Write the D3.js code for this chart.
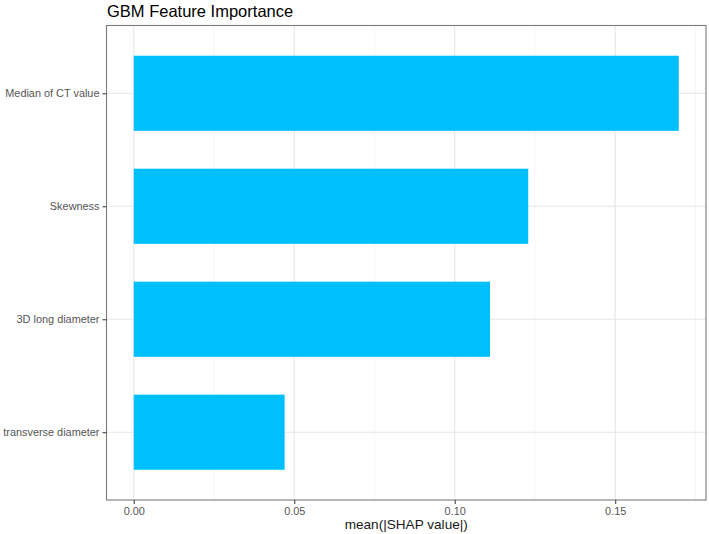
<!DOCTYPE html>
<html>
<head>
<meta charset="utf-8">
<script src="https://cdn.jsdelivr.net/npm/d3@7"></script>
<style>
  html, body { margin: 0; padding: 0; background: #fff; }
  text { font-family: "Liberation Sans", Arial, Helvetica, sans-serif; }
</style>
</head>
<body>
<svg id="chart" width="709" height="534"></svg>
<script>
const features = ["Median of CT value", "Skewness", "3D long diameter", "transverse diameter"];
const importance = [0.1698, 0.1229, 0.1110, 0.0470];
const xTicks = [0, 0.05, 0.10, 0.15];
const xMinor = [0.025, 0.075, 0.125, 0.175];
const xTickLabels = ["0.00", "0.05", "0.10", "0.15"];
const titleText = "GBM Feature Importance";
const xTitle = "mean(|SHAP value|)";

const svg = d3.select("#chart");
const panel = { left: 106.5, right: 706, top: 25.5, bottom: 500 };

const maxV = d3.max(importance);
const x = d3.scaleLinear()
  .domain([-0.05 * maxV, maxV * 1.05])
  .range([panel.left, panel.right]);

const n = features.length;
const step = (panel.bottom - panel.top) / (n - 1 + 1.2);
const y = d3.scalePoint()
  .domain(features)
  .range([panel.top + 0.6 * step, panel.bottom - 0.6 * step]);
const barH = step * 0.665;

// panel background
svg.append("rect")
  .attr("x", panel.left).attr("y", panel.top)
  .attr("width", panel.right - panel.left).attr("height", panel.bottom - panel.top)
  .attr("fill", "#fff");

// minor grid
svg.append("g").selectAll("line").data(xMinor).join("line")
  .attr("x1", d => x(d)).attr("x2", d => x(d))
  .attr("y1", panel.top).attr("y2", panel.bottom)
  .attr("stroke", "#f0f0f0").attr("stroke-width", 0.6);

// major grid
svg.append("g").selectAll("line").data(xTicks).join("line")
  .attr("x1", d => x(d)).attr("x2", d => x(d))
  .attr("y1", panel.top).attr("y2", panel.bottom)
  .attr("stroke", "#e6e6e6").attr("stroke-width", 1.1);
svg.append("g").selectAll("line").data(features).join("line")
  .attr("x1", panel.left).attr("x2", panel.right)
  .attr("y1", d => y(d)).attr("y2", d => y(d))
  .attr("stroke", "#e6e6e6").attr("stroke-width", 1.1);

// bars
svg.append("g").selectAll("rect").data(features).join("rect")
  .attr("x", x(0))
  .attr("y", d => y(d) - barH / 2)
  .attr("width", (d, i) => x(importance[i]) - x(0))
  .attr("height", barH)
  .attr("fill", "#00BFFF");

// border
svg.append("rect")
  .attr("x", panel.left).attr("y", panel.top)
  .attr("width", panel.right - panel.left).attr("height", panel.bottom - panel.top)
  .attr("fill", "none").attr("stroke", "#7a7a7a").attr("stroke-width", 1.1);

// x axis
const xAxis = d3.axisBottom(x).tickValues(xTicks)
  .tickFormat((d, i) => xTickLabels[i]).tickSize(4).tickPadding(3);
const gx = svg.append("g").attr("transform", `translate(0,${panel.bottom})`).call(xAxis);
gx.select(".domain").remove();
gx.selectAll(".tick line").attr("stroke", "#444").attr("stroke-width", 1.1);
gx.selectAll(".tick text").attr("fill", "#555").style("font-size", "10.9px")
  .style("font-family", "'Liberation Sans', Arial, sans-serif");

// y axis
const yAxis = d3.axisLeft(y).tickSize(4).tickPadding(3);
const gy = svg.append("g").attr("transform", `translate(${panel.left},0)`).call(yAxis);
gy.select(".domain").remove();
gy.selectAll(".tick line").attr("stroke", "#444").attr("stroke-width", 1.1);
gy.selectAll(".tick text").attr("fill", "#555").style("font-size", "10.9px")
  .style("font-family", "'Liberation Sans', Arial, sans-serif");

// axis title
svg.append("text")
  .attr("x", (panel.left + panel.right) / 2).attr("y", 529)
  .attr("text-anchor", "middle")
  .attr("fill", "#1a1a1a")
  .style("font-size", "13.6px")
  .text(xTitle);

// title
svg.append("text")
  .attr("x", 107).attr("y", 17)
  .attr("fill", "#000")
  .style("font-size", "16.5px")
  .text(titleText);
</script>
</body>
</html>
